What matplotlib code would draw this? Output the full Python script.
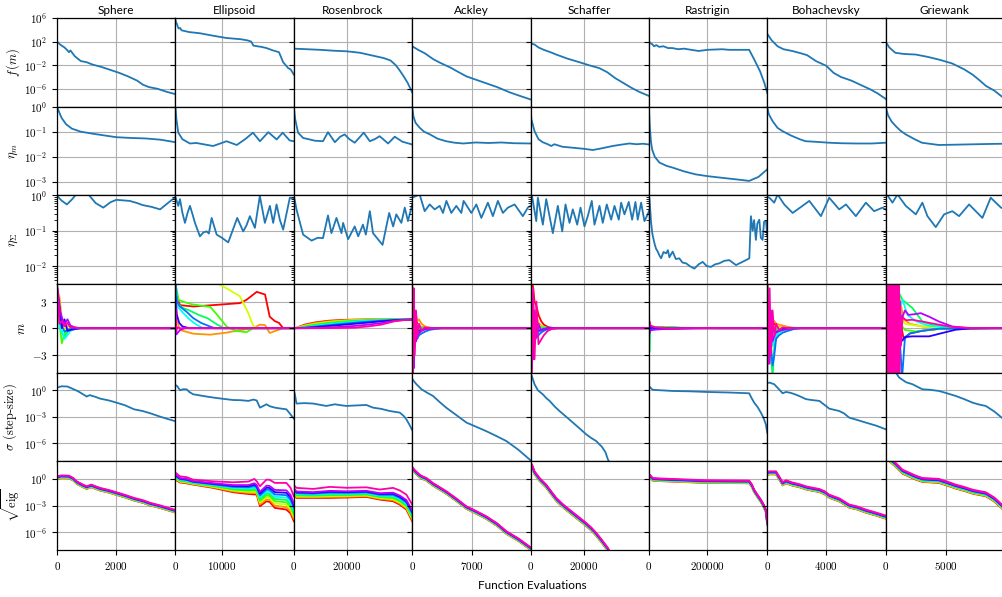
import numpy as np
import matplotlib
matplotlib.use("Agg")
import matplotlib.pyplot as plt

plt.rcParams.update({
    "font.family": "cmr10",
    "mathtext.fontset": "cm",
    "axes.formatter.use_mathtext": True,
    "font.size": 8,
    "axes.linewidth": 0.9,
})

functions = ["Sphere", "Ellipsoid", "Rosenbrock", "Ackley",
             "Schaffer", "Rastrigin", "Bohachevsky", "Griewank"]
max_evals = [4000, 25500, 44700, 13950, 44700, 405000, 8030, 9800]
mid_ticks = [2000, 10000, 20000, 7000, 20000, 200000, 4000, 5000]
n_dims = 10

# ---- f(m), log10 values as (evaluations, value) ----
sphere_f = [(0, 2.0), (100, 1.5), (250, 1.0), (330, 0.6), (400, 0.2), (450, 0.5), (600, -0.5),
            (800, -1.3), (1000, -1.5), (1200, -1.9), (1500, -2.3), (1800, -2.8), (2100, -3.3),
            (2400, -3.9), (2700, -4.6), (2900, -5.3), (3100, -5.7), (3400, -6.0), (3700, -6.5), (4000, -6.9)]
ellipsoid_f = [(0, 5.7), (150, 5.2), (300, 5.0), (500, 4.5), (700, 4.2), (1000, 4.3), (1300, 3.9),
               (3000, 3.6), (5300, 3.4), (8000, 3.0), (11000, 2.6), (14000, 2.4), (15500, 2.2),
               (16300, 2.0), (16800, 1.3), (18500, 1.1), (19600, 0.9), (21000, 0.5), (22300, 0.2),
               (23200, -1.5), (24300, -2.5), (24800, -2.7), (25500, -3.6)]
rosenbrock_f = [(0, 0.8), (5000, 0.7), (10000, 0.6), (15000, 0.45), (20000, 0.35), (25000, 0.1),
                (30000, -0.4), (34000, -0.8), (36500, -1.2), (38500, -2.0), (40000, -2.9),
                (41500, -3.9), (43000, -5.0), (44700, -6.6)]
ackley_f = [(0, 1.2), (700, 0.6), (1500, 0.0), (2500, -1.0), (3300, -1.6), (4500, -2.4), (5500, -3.2),
            (6400, -3.9), (8000, -4.7), (9000, -5.2), (10000, -5.7), (11500, -6.6), (12500, -7.1), (13950, -7.8)]
schaffer_f = [(0, 2.0), (600, 1.6), (1500, 1.5), (3000, 1.0), (5000, 0.6), (7500, 0.2), (9700, -0.2),
              (14000, -0.9), (18500, -1.5), (22000, -2.0), (26000, -2.5), (29000, -3.2), (32000, -4.2),
              (35000, -5.0), (38000, -5.8), (41000, -6.5), (44700, -7.2)]
rastrigin_f = [(0, 2.1), (5000, 1.7), (10000, 1.6), (18000, 1.2), (25000, 1.4), (35000, 1.1), (50000, 1.2),
               (65000, 0.9), (80000, 0.9), (100000, 0.7), (120000, 0.8), (145000, 0.6), (170000, 0.4),
               (200000, 0.6), (225000, 0.65), (250000, 0.7), (275000, 0.6), (300000, 0.6), (343000, 0.6),
               (360000, -1.0), (380000, -3.0), (395000, -5.0), (405000, -6.7)]
bohachevsky_f = [(0, 3.3), (300, 2.2), (700, 1.2), (1100, 0.7), (1700, 0.4), (2300, 0.0), (2700, -0.3),
                 (3300, -1.3), (4000, -2.1), (4500, -3.3), (5000, -4.0), (5700, -4.6), (6300, -5.3),
                 (7000, -6.1), (7500, -6.8), (8030, -7.7)]
griewank_f = [(0, 2.0), (300, 1.0), (800, 0.1), (1500, -0.1), (2500, -0.2), (3500, -0.6), (4500, -1.1),
              (5500, -1.7), (6500, -2.7), (7200, -3.6), (7800, -4.6), (8300, -5.5), (9000, -6.3), (9800, -7.6)]

# ---- eta_m, log10 values ----
sphere_eta_m = [(0, 0.0), (60, -0.2), (150, -0.45), (300, -0.7), (500, -0.88), (800, -1.0), (1200, -1.08),
                (1600, -1.15), (2000, -1.22), (2500, -1.25), (3000, -1.27), (3500, -1.32), (4000, -1.42)]
ellipsoid_eta_m = [(0, 0.0), (200, -0.5), (600, -1.04), (1500, -1.3), (3100, -1.47), (4500, -1.45),
                   (6000, -1.5), (8100, -1.57), (9500, -1.48), (11000, -1.38), (13200, -1.53), (15000, -1.3),
                   (16700, -1.04), (18200, -1.38), (20000, -1.02), (21800, -1.31), (23100, -1.04),
                   (24600, -1.35), (25500, -1.38)]
rosenbrock_eta_m = [(0, 0.0), (500, -0.5), (1600, -1.04), (3500, -1.25), (6000, -1.31), (8000, -1.36),
                    (11000, -1.38), (12900, -1.02), (15500, -1.42), (17500, -1.2), (19200, -1.11),
                    (21000, -1.3), (23000, -1.44), (26400, -1.04), (28700, -1.38), (30500, -1.3),
                    (32400, -1.18), (35600, -1.47), (38100, -1.2), (41000, -1.4), (44700, -1.51)]
ackley_eta_m = [(0, 0.0), (150, -0.4), (400, -0.65), (900, -0.85), (1400, -1.0), (2100, -1.11), (3000, -1.28),
                (4000, -1.38), (5000, -1.44), (6000, -1.47), (7500, -1.43), (9000, -1.45), (10500, -1.43),
                (12000, -1.46), (13950, -1.47)]
schaffer_eta_m = [(0, 0.0), (300, -0.5), (1500, -0.98), (3000, -1.3), (4600, -1.42), (6500, -1.5),
                  (7800, -1.57), (9000, -1.5), (12000, -1.6), (16000, -1.64), (20000, -1.68), (23500, -1.73),
                  (27000, -1.66), (31000, -1.57), (34000, -1.52), (37300, -1.47), (40000, -1.5),
                  (42500, -1.48), (44700, -1.51)]
rastrigin_eta_m = [(0, 0.0), (3000, -0.8), (7000, -1.4), (11000, -1.71), (20000, -2.0), (36000, -2.23),
                   (60000, -2.36), (81000, -2.43), (120000, -2.58), (160000, -2.7), (200000, -2.77),
                   (260000, -2.85), (300000, -2.9), (343000, -2.96), (375000, -2.8), (405000, -2.5)]
bohachevsky_eta_m = [(0, 0.0), (100, -0.3), (360, -0.58), (700, -0.85), (1040, -0.98), (1600, -1.15),
                     (2200, -1.3), (2600, -1.38), (3200, -1.4), (4200, -1.44), (5000, -1.46), (6000, -1.47),
                     (7100, -1.47), (8030, -1.44)]
griewank_eta_m = [(0, 0.0), (200, -0.35), (500, -0.6), (840, -0.78), (1200, -0.95), (1670, -1.11),
                  (2400, -1.3), (3000, -1.44), (4400, -1.53), (5500, -1.52), (6500, -1.51), (7500, -1.5),
                  (8500, -1.49), (9800, -1.48)]

# ---- eta_Sigma, log10 values ----
sphere_eta_c = [(0, -0.02), (150, -0.15), (330, -0.26), (500, -0.12), (650, 0.03), (1050, 0.03),
                (1300, -0.22), (1560, -0.35), (1800, -0.2), (2000, -0.13), (2450, -0.16), (2700, -0.22),
                (2900, -0.28), (3200, -0.33), (3480, -0.4), (3700, -0.25), (4000, -0.05)]
ellipsoid_eta_c = [(0, -0.05), (260, -0.16), (600, -0.3), (970, -0.11), (1500, -0.5), (2040, -0.78),
                   (2600, -0.5), (3120, -0.3), (3700, -0.55), (4200, -0.78), (5270, -1.16), (6000, -1.05),
                   (6710, -1.02), (7200, -1.08), (7790, -0.64), (8870, -1.11), (10000, -1.2), (11360, -1.33),
                   (12300, -1.0), (13300, -0.64), (14590, -1.02), (15300, -0.85), (16030, -0.59),
                   (17110, -0.92), (18180, -0.02), (19260, -0.78), (20340, -0.3), (21050, -0.78),
                   (21780, -0.26), (22500, -0.7), (23200, -0.97), (24640, -0.07), (25500, -0.1)]
rosenbrock_eta_c = [(0, 0.0), (1000, -0.4), (3500, -1.11), (6700, -1.28), (9000, -1.2), (11000, -1.21),
                    (12900, -0.57), (14200, -1.07), (16100, -0.64), (18000, -1.07), (18600, -0.78),
                    (20500, -1.24), (23000, -0.88), (24300, -1.16), (26100, -0.83), (27200, -1.11),
                    (28700, -0.45), (29900, -1.07), (33500, -1.4), (36000, -0.5), (37500, -0.88),
                    (38700, -0.54), (40600, -0.78), (41900, -0.35), (43100, -0.73), (44700, -0.26)]
ackley_eta_c = [(0, -0.07), (880, 0.02), (1470, -0.45), (2060, -0.26), (2650, -0.4), (3240, -0.3),
                (3630, -0.5), (4030, -0.16), (4610, -0.5), (5200, -0.3), (5790, -0.5), (6060, -0.16),
                (6970, -0.5), (7560, -0.26), (8150, -0.64), (8920, -0.21), (9510, -0.59), (10100, -0.16),
                (10690, -0.5), (11280, -0.35), (12070, -0.26), (13040, -0.59), (13630, -0.35), (13950, -0.3)]
schaffer_eta_c = [(0, 0.02), (490, 0.0), (2150, -0.73), (2750, -0.07), (4640, -0.83), (5920, -0.11),
                  (8410, -1.07), (10300, -0.3), (11960, -1.02), (13200, -0.26), (14710, -0.78),
                  (15960, -0.4), (17620, -0.83), (18860, -0.35), (20370, -0.88), (21610, -0.59),
                  (23120, -0.16), (24140, -0.83), (26030, -0.3), (27270, -0.78), (28780, -0.26),
                  (30440, -0.69), (31690, -0.3), (33310, -0.69), (34210, -0.21), (35460, -0.54),
                  (37080, -0.19), (38360, -0.69), (39610, -0.19), (40470, -0.69), (41760, -0.21),
                  (43000, -0.73), (44250, -0.54), (44700, -0.45)]
rastrigin_eta_c = [(0, 0.0), (1700, -0.07), (7500, -0.78), (12000, -1.1), (18800, -1.35), (24000, -1.5),
                   (30100, -1.59), (36000, -1.7), (41700, -1.78), (50000, -1.6), (58800, -1.64),
                   (65000, -1.55), (70000, -1.75), (81300, -1.59), (92000, -1.8), (104000, -1.78),
                   (115000, -1.9), (127000, -1.92), (140000, -2.0), (155500, -2.07), (170000, -1.95),
                   (184000, -1.88), (198000, -2.0), (212600, -2.02), (226000, -1.95), (241000, -1.92),
                   (258000, -1.85), (275000, -1.83), (298000, -1.97), (315000, -1.9), (332000, -1.83),
                   (343500, -1.78), (349000, -0.59), (355000, -1.0), (360000, -0.7), (366000, -1.26),
                   (371000, -0.8), (377700, -0.69), (383000, -1.2), (389000, -1.26), (394000, -0.75),
                   (400600, -0.73), (405000, -1.16)]
bohachevsky_eta_c = [(0, -0.05), (140, -0.07), (470, -0.21), (700, 0.02), (1150, -0.26), (1720, -0.5),
                     (2390, -0.3), (2850, -0.16), (3640, -0.59), (4200, -0.07), (4880, -0.4),
                     (5340, -0.26), (6010, -0.59), (6690, -0.21), (7250, -0.45), (7820, -0.35), (8030, -0.4)]
griewank_eta_c = [(0, 0.02), (150, 0.0), (560, -0.21), (980, 0.02), (1670, -0.3), (2500, -0.54),
                  (3040, -0.21), (3460, -0.59), (4150, -0.9), (4840, -0.54), (5520, -0.45), (6080, -0.59),
                  (6910, -0.26), (8010, -0.64), (8700, -0.07), (9550, -0.35), (9800, -0.38)]

# ---- m, one (evaluations, values) line per coordinate ----
sphere_m_evals = [0, 80, 160, 250, 350, 450, 600, 800, 1200, 4000]
sphere_m = [
    (sphere_m_evals, [4.8, 2.0, 0.5, 0.3, 0.1, 0.05, 0.02, 0.0, 0.0, 0.0]),
    (sphere_m_evals, [4.5, 3.5, 1.0, 0.4, 0.2, 0.1, 0.05, 0.02, 0.0, 0.0]),
    (sphere_m_evals, [4.0, 1.5, 0.2, -0.2, 0.1, 0.05, 0.0, 0.0, 0.0, 0.0]),
    (sphere_m_evals, [3.5, 0.5, -1.7, -0.6, -0.3, -0.1, -0.03, 0.0, 0.0, 0.0]),
    (sphere_m_evals, [4.2, 1.0, -0.5, -1.0, -0.4, -0.2, -0.05, 0.0, 0.0, 0.0]),
    (sphere_m_evals, [3.8, 0.0, -0.3, -1.2, -0.8, -0.3, -0.1, -0.02, 0.0, 0.0]),
    (sphere_m_evals, [4.6, 1.8, 0.3, -0.4, -0.2, -0.1, 0.0, 0.0, 0.0, 0.0]),
    (sphere_m_evals, [4.4, 2.5, 0.0, 1.0, -0.3, -0.2, -0.1, 0.0, 0.0, 0.0]),
    (sphere_m_evals, [4.9, 2.2, 1.2, 0.5, 1.0, 0.3, 0.1, 0.0, 0.0, 0.0]),
    (sphere_m_evals, [4.5, 0.5, 0.8, 0.2, 0.6, 0.1, 0.05, 0.0, 0.0, 0.0]),
]
ellipsoid_m = [
    ([0, 300, 970, 3800, 8000, 13900, 15300, 17500, 19300, 20300, 21400, 22300, 23200, 25500],
     [5.5, 3.5, 2.6, 2.45, 2.6, 2.83, 3.2, 4.1, 3.8, 1.3, 0.8, 0.6, 0.0, 0.0]),
    ([0, 200, 970, 3800, 7500, 11000, 13500, 16700, 18200, 19300, 20300, 22100, 23200, 25500],
     [4.0, 1.0, -0.2, -0.62, -0.73, -0.5, -0.25, 0.0, 0.4, 0.35, -0.54, -0.2, 0.0, 0.0]),
    ([0, 5000, 9200, 11000, 13900, 15700, 16700, 17500, 25500],
     [6.0, 6.0, 5.0, 4.5, 3.6, 1.7, 0.3, 0.05, 0.0]),
    ([0, 700, 1600, 3500, 5500, 7500, 9000, 11000, 13000, 15300, 16700, 25500],
     [5.0, 3.2, 3.0, 2.7, 2.55, 2.4, 1.5, 0.2, -0.3, -0.45, 0.0, 0.0]),
    ([0, 500, 1500, 3000, 5000, 7000, 9000, 10500, 25500],
     [4.5, 2.8, 2.3, 2.0, 1.5, 1.1, 0.4, 0.0, 0.0]),
    ([0, 400, 1500, 3000, 4500, 6000, 25500], [4.0, 2.5, 1.8, 1.0, 0.4, 0.0, 0.0]),
    ([0, 300, 970, 2500, 3800, 5500, 7400, 8500, 25500], [5.5, 3.0, 2.45, 1.8, 1.15, 0.6, 0.2, 0.0, 0.0]),
    ([0, 300, 800, 1500, 3000, 25500], [3.5, 1.5, 0.6, 0.2, 0.0, 0.0]),
    ([0, 200, 500, 1000, 2000, 25500], [2.0, -0.7, -0.5, -0.2, 0.0, 0.0]),
    ([0, 150, 400, 1000, 25500], [3.0, -0.3, 0.1, 0.0, 0.0]),
]
rosenbrock_m_evals = [0, 1000, 4000, 8000, 13000, 18000, 23000, 28000, 33000, 38000, 41000, 44700]
rosenbrock_m = [
    (rosenbrock_m_evals, [0, 0.05, 0.40, 0.65, 0.84, 0.93, 0.97, 0.99, 1.0, 1.0, 1.0, 1.0]),
    (rosenbrock_m_evals, [0, 0.04, 0.33, 0.57, 0.77, 0.88, 0.94, 0.97, 0.99, 1.0, 1.0, 1.0]),
    (rosenbrock_m_evals, [0, 0.03, 0.26, 0.49, 0.69, 0.82, 0.90, 0.95, 0.98, 0.99, 1.0, 1.0]),
    (rosenbrock_m_evals, [0, 0.02, 0.20, 0.41, 0.61, 0.75, 0.85, 0.92, 0.96, 0.99, 1.0, 1.0]),
    (rosenbrock_m_evals, [0, 0.01, 0.15, 0.33, 0.52, 0.67, 0.79, 0.88, 0.94, 0.98, 0.99, 1.0]),
    (rosenbrock_m_evals, [0, 0.01, 0.10, 0.25, 0.43, 0.58, 0.71, 0.82, 0.90, 0.96, 0.98, 0.99]),
    (rosenbrock_m_evals, [0, 0.0, 0.06, 0.18, 0.34, 0.48, 0.62, 0.74, 0.85, 0.94, 0.97, 0.99]),
    (rosenbrock_m_evals, [0, 0.0, 0.03, 0.11, 0.24, 0.37, 0.50, 0.63, 0.77, 0.90, 0.95, 0.98]),
    (rosenbrock_m_evals, [0, 0.0, 0.0, 0.02, 0.08, 0.16, 0.26, 0.40, 0.58, 0.82, 0.91, 0.97]),
    (rosenbrock_m_evals, [0, 0.0, 0.0, 0.0, 0.01, 0.03, 0.06, 0.20, 0.40, 0.78, 0.90, 0.96]),
]
ackley_m_evals = [0, 100, 200, 300, 450, 600, 800, 1100, 1500, 2000, 2600, 3500, 13950]
ackley_m = [
    (ackley_m_evals, [4.0, -2.0, 3.0, -1.0, 1.5, 0.5, 0.3, 0.1, 0.05, 0, 0, 0, 0]),
    (ackley_m_evals, [5.5, 3.0, -1.0, 2.0, 1.0, 0.8, 1.0, 0.5, 0.2, 0.1, 0, 0, 0]),
    (ackley_m_evals, [-3.0, 2.0, -1.5, 1.0, 0.3, 0.4, 0.2, 0.1, 0, 0, 0, 0, 0]),
    (ackley_m_evals, [3.0, -4.0, 1.0, -0.5, 0.5, 0.2, 0.1, 0, 0, 0, 0, 0, 0]),
    (ackley_m_evals, [-5.5, 2.5, -3.0, 0.8, -0.6, 0.3, -0.2, 0.1, 0, 0, 0, 0, 0]),
    (ackley_m_evals, [2.0, -3.5, 2.0, -1.0, 0.5, -0.3, -0.4, -0.2, -0.1, 0, 0, 0, 0]),
    (ackley_m_evals, [-4.0, 3.0, -2.5, -1.5, -1.0, -1.2, -0.8, -0.6, -0.4, -0.2, -0.1, 0, 0]),
    (ackley_m_evals, [4.5, -2.5, 1.5, -1.0, 0.6, -0.5, -0.3, -0.2, -0.1, 0, 0, 0, 0]),
    (ackley_m_evals, [-5.5, 4.0, -4.5, 2.0, -1.5, -0.8, -0.6, -0.3, -0.15, -0.05, 0, 0, 0]),
    (ackley_m_evals, [5.5, -5.5, 4.5, -3.0, 2.0, -1.0, 0.5, -0.3, 0.1, 0, 0, 0, 0]),
]
schaffer_m_evals = [0, 500, 1000, 1500, 2200, 3000, 4000, 5000, 6500, 8000, 10000, 44700]
schaffer_m = [
    (schaffer_m_evals, [5.5, 5.5, 4.5, 3.0, 2.5, 1.5, 0.8, 0.4, 0.15, 0.05, 0, 0]),
    (schaffer_m_evals, [4.0, -2.0, 2.5, 0.5, 1.2, 0.6, 0.3, 0.1, 0.05, 0, 0, 0]),
    (schaffer_m_evals, [-3.0, 3.5, -1.0, 1.5, 0.2, 0.4, 0.2, 0.1, 0, 0, 0, 0]),
    (schaffer_m_evals, [3.0, -4.0, 1.5, -0.5, 0.6, 0.2, 0.1, 0.05, 0, 0, 0, 0]),
    (schaffer_m_evals, [-4.0, 2.5, -2.5, 0.8, -0.6, 0.3, -0.2, 0.1, 0, 0, 0, 0]),
    (schaffer_m_evals, [2.0, -4.5, 1.5, -1.5, 0.4, -0.5, -0.3, -0.1, 0, 0, 0, 0]),
    (schaffer_m_evals, [-5.5, 3.0, -3.0, -1.5, -1.0, -0.8, -0.5, -0.3, -0.1, -0.05, 0, 0]),
    (schaffer_m_evals, [4.5, -2.0, 2.0, -1.0, 0.6, -0.3, -0.2, -0.1, 0, 0, 0, 0]),
    (schaffer_m_evals, [-4.5, 4.0, -3.5, 2.0, -1.0, 0.5, -0.3, -0.1, 0, 0, 0, 0]),
    (schaffer_m_evals, [5.5, -5.5, 4.5, -3.5, 3.0, -1.8, -1.3, -0.8, -0.3, -0.1, 0, 0]),
]
rastrigin_m_evals = [0, 1500, 4000, 10000, 25000, 50000, 80000, 120000, 170000, 250000, 405000]
rastrigin_m = [
    (rastrigin_m_evals, [2.0, -0.5, 0.3, 0.1, -0.1, 0.05, 0.1, 0.0, 0.02, 0, 0]),
    (rastrigin_m_evals, [-1.0, 0.6, 0.2, -0.1, 0.15, 0.0, 0.05, 0.03, 0, 0, 0]),
    (rastrigin_m_evals, [3.0, 0.2, -0.3, 0.2, 0.05, 0.1, 0.0, 0.02, 0.01, 0, 0]),
    (rastrigin_m_evals, [-2.0, 0.4, 0.1, 0.25, 0.1, 0.15, 0.1, 0.05, 0.02, 0, 0]),
    (rastrigin_m_evals, [5.0, -2.7, 0.3, -0.2, 0.1, 0.05, 0.0, 0.03, 0.02, 0, 0]),
    (rastrigin_m_evals, [-1.5, 0.3, -0.2, 0.15, 0.1, 0.0, 0.05, 0.02, 0, 0, 0]),
    (rastrigin_m_evals, [1.0, -0.4, 0.2, -0.15, -0.05, -0.1, 0.0, -0.02, 0, 0, 0]),
    (rastrigin_m_evals, [-0.5, 0.5, -0.1, 0.1, -0.1, 0.05, -0.05, 0, 0, 0, 0]),
    (rastrigin_m_evals, [1.5, -0.6, -0.3, -0.2, -0.15, -0.1, -0.1, -0.05, -0.02, 0, 0]),
    (rastrigin_m_evals, [-1.0, 0.8, 0.4, 0.2, 0.1, 0.05, -0.05, 0.0, 0.02, 0, 0]),
]
bohachevsky_m_evals = [0, 80, 160, 250, 360, 480, 600, 800, 1050, 1400, 1800, 2300, 8030]
bohachevsky_m = [
    (bohachevsky_m_evals, [5.5, 2.0, -1.0, 1.0, 0.3, 0.5, 0.2, 0.1, 0.05, 0, 0, 0, 0]),
    (bohachevsky_m_evals, [4.0, 3.5, 0.5, 1.5, 0.6, 0.8, 0.5, 0.4, 0.3, 0.15, 0.05, 0, 0]),
    (bohachevsky_m_evals, [-2.0, 1.0, 2.5, -0.5, 0.4, 0.2, 0.1, 0.1, 0.05, 0, 0, 0, 0]),
    (bohachevsky_m_evals, [3.0, -2.0, 1.5, -1.5, -0.5, -0.3, -0.2, -0.1, 0, 0, 0, 0, 0]),
    (bohachevsky_m_evals, [-3.0, 4.0, -2.0, -3.0, -5.5, -2.0, -1.0, -0.4, -0.2, -0.1, 0, 0, 0]),
    (bohachevsky_m_evals, [2.0, -3.0, 2.0, -1.0, -2.0, -1.5, -0.8, -0.5, -0.3, -0.1, 0, 0, 0]),
    (bohachevsky_m_evals, [-4.0, 2.0, -3.0, -2.0, -4.2, -3.0, -1.2, -0.8, -0.5, -0.3, -0.1, 0, 0]),
    (bohachevsky_m_evals, [4.5, -1.0, 1.0, -0.5, 0.3, -0.3, -0.4, -0.3, -0.1, 0, 0, 0, 0]),
    (bohachevsky_m_evals, [-5.0, 3.0, -4.0, 2.0, -1.5, -0.8, -0.5, -0.3, -0.2, -0.1, 0, 0, 0]),
    (bohachevsky_m_evals, [5.5, -4.0, 4.5, -3.0, 2.0, -1.0, 0.5, -0.2, 0.1, 0, 0, 0, 0]),
]
griewank_m = [
    ([0, 300, 600, 900, 1200, 1500, 2000, 3000, 4500, 9800],
     [5.5, -5.5, 3.0, -2.0, 1.0, -1.3, -0.6, -0.3, -0.05, 0]),
    ([0, 300, 600, 900, 1200, 1500, 2000, 3000, 4500, 9800],
     [-4.0, 5.5, -1.0, 5.5, 3.0, 1.0, 0.5, 0.2, 0.05, 0]),
    ([0, 300, 600, 900, 1200, 1600, 2500, 3500, 5000, 9800],
     [4.0, -3.0, 5.5, -1.0, 1.5, 0.5, 0.3, 0.15, 0.05, 0]),
    ([0, 300, 600, 900, 1200, 1600, 2500, 3500, 5000, 9800],
     [-3.0, 5.5, -2.0, 3.0, 0.5, -0.2, -0.36, -0.2, -0.05, 0]),
    ([0, 250, 500, 800, 1100, 1390, 2220, 3040, 4000, 5500, 9800],
     [5.5, -4.0, 3.0, -2.0, 4.0, 3.2, 2.27, 0.76, 0.3, 0.05, 0]),
    ([0, 250, 500, 800, 1100, 1400, 1800, 2500, 3500, 5000, 9800],
     [-5.5, 4.0, -3.0, 5.5, 2.0, 3.2, 1.5, 0.8, 0.3, 0.05, 0]),
    ([0, 300, 600, 900, 1200, 1370, 1600, 2000, 3000, 4500, 9800],
     [3.0, -3.0, 4.0, -5.5, -2.0, -5.5, -1.0, -0.6, -0.3, -0.05, 0]),
    ([0, 200, 400, 600, 800, 1000, 1300, 1600, 2200, 3600, 4700, 5800, 7000, 9800],
     [4.0, -5.5, 3.0, -4.0, 2.0, -3.0, -1.5, -1.0, -0.92, -0.92, -0.54, -0.17, -0.03, 0]),
    ([0, 200, 400, 600, 800, 1000, 1300, 1600, 1900, 2500, 2900, 3600, 4400, 5500, 6600, 9800],
     [-5.5, 5.5, -4.0, 4.5, -2.0, 3.5, 1.0, 2.0, 1.5, 1.6, 1.7, 1.3, 0.76, 0.2, 0.03, 0]),
    ([0, 60, 120, 180, 240, 300, 360, 420, 480, 540, 600, 660, 720, 780, 840, 900, 960, 1020,
      1080, 1140, 1200, 1260, 1400, 1700, 2200, 3000, 3600, 4400, 5500, 7000, 9800],
     [5.5, -5.5, 5.5, -5.5, 5.5, -5.5, 5.5, -5.5, 5.5, -5.5, 5.5, -5.5, 5.5, -5.5, 5.5, -5.5, 5.5,
      -5.5, 5.5, -5.5, 3.0, -2.0, 1.2, 0.9, 0.95, 0.76, 0.6, 0.4, 0.15, 0.03, 0]),
]

# ---- sigma (step-size), log10 values ----
sphere_sigma = [(0, 0.3), (150, 0.45), (350, 0.42), (500, 0.2), (700, -0.1), (900, -0.5), (1000, -0.71),
                (1100, -0.55), (1300, -0.75), (1450, -0.94), (1750, -1.15), (2000, -1.39), (2300, -1.7),
                (2600, -2.15), (2900, -2.35), (3150, -2.6), (3500, -3.0), (4000, -3.5)]
ellipsoid_sigma = [(0, 0.6), (400, 0.45), (970, 0.0), (1700, 0.12), (2400, 0.1), (3000, -0.2),
                   (3800, -0.45), (6000, -0.65), (8100, -0.82), (10000, -0.95), (12400, -1.1),
                   (14000, -1.12), (15700, -1.2), (16800, -1.05), (17500, -1.15), (18200, -1.96),
                   (19000, -1.75), (19600, -1.58), (20300, -1.8), (21400, -1.96), (22500, -2.05),
                   (23900, -2.15), (24600, -2.6), (25500, -3.2)]
rosenbrock_sigma = [(0, -1.0), (300, -0.3), (1000, -1.5), (4000, -1.45), (7300, -1.5), (10000, -1.65),
                    (12300, -1.77), (15500, -1.58), (18000, -1.7), (19900, -1.77), (23000, -1.72),
                    (27400, -1.66), (29900, -1.96), (33000, -2.1), (36200, -2.34), (38500, -2.45),
                    (40000, -2.52), (41500, -2.9), (42500, -3.28), (43500, -3.8), (44700, -4.5)]
ackley_sigma = [(0, 1.3), (300, 0.9), (500, 0.68), (1100, 0.11), (1800, -0.3), (2450, -0.64), (3200, -1.3),
                (4000, -1.96), (5200, -2.8), (6400, -3.65), (7500, -4.1), (8700, -4.6), (10000, -5.2),
                (11100, -5.73), (12500, -6.7), (13950, -7.9)]
schaffer_sigma = [(0, 2.0), (600, 1.5), (1500, 0.68), (2750, 0.0), (4600, -0.45), (6000, -0.9),
                  (7200, -1.2), (9000, -1.8), (10900, -2.34), (13500, -3.0), (16000, -3.65), (18500, -4.3),
                  (21000, -4.97), (23000, -5.4), (24800, -5.73), (27000, -6.4), (28300, -7.0),
                  (29200, -7.8), (31000, -8.8), (44700, -14.0)]
rastrigin_sigma = [(0, 0.5), (5000, 0.3), (13000, 0.05), (40000, 0.0), (81000, -0.08), (140000, -0.12),
                   (195000, -0.19), (270000, -0.25), (343000, -0.34), (350000, -0.8), (360000, -1.39),
                   (372000, -1.9), (383000, -2.52), (392000, -3.1), (400000, -3.84), (405000, -4.8)]
bohachevsky_sigma = [(0, 0.8), (140, 0.87), (470, 0.68), (800, 0.1), (1040, -0.34), (1270, -0.19),
                     (1600, -0.3), (1950, -0.5), (2300, -0.75), (2620, -1.0), (3000, -1.1), (3530, -1.2),
                     (4000, -1.8), (4200, -2.07), (4880, -2.34), (5200, -2.6), (5560, -3.09), (6000, -3.3),
                     (6690, -3.65), (7400, -4.0), (8030, -4.4)]
griewank_sigma = [(0, 3.0), (840, 2.0), (1120, 1.43), (1700, 0.9), (2220, 0.68), (3040, 0.11), (3700, 0.05),
                  (4420, -0.08), (5100, -0.35), (5800, -0.64), (6500, -1.0), (7180, -1.39), (7700, -1.6),
                  (8290, -1.77), (9000, -2.4), (9800, -3.3)]

# ---- sqrt(eig): largest value, smallest value (or band width), log10 ----
sphere_eig = [(0, 0.3), (150, 0.4), (400, 0.37), (550, 0.1), (665, -0.27), (850, -0.6), (1000, -0.83),
              (1150, -0.64), (1450, -1.01), (1750, -1.25), (2000, -1.5), (2300, -1.8), (2600, -2.14),
              (2900, -2.4), (3150, -2.7), (3500, -3.0), (4000, -3.5)]
sphere_eig_low = 0.3
ellipsoid_eig_evals = [0, 970, 2400, 3800, 8100, 12400, 15700, 17000, 17500, 18200, 19600, 20300,
                       21400, 23900, 24800, 25500]
ellipsoid_eig = list(zip(ellipsoid_eig_evals,
                         [0.70, 0.29, 0.20, -0.08, -0.27, -0.38, -0.30, 0.00, -0.27, -0.83, -0.08,
                          -0.10, -0.45, -0.45, -1.01, -1.96]))
ellipsoid_eig_low = [-0.10, -0.40, -0.50, -0.64, -1.01, -1.50, -1.70, -1.75, -1.77, -3.08, -2.52,
                     -2.60, -3.27, -3.46, -3.90, -4.77]
rosenbrock_eig_evals = [0, 1000, 7300, 13600, 19900, 27400, 32400, 37500, 40000, 42500, 44700]
rosenbrock_eig = list(zip(rosenbrock_eig_evals,
                          [-0.7, -1.01, -1.13, -0.9, -1.0, -0.95, -1.2, -1.01, -1.3, -1.77, -2.89]))
rosenbrock_eig_low = [-1.6, -2.14, -2.14, -2.14, -2.1, -2.03, -2.33, -2.52, -2.9, -3.46, -4.77]
ackley_eig = [(0, 1.35), (300, 1.0), (880, 0.48), (1200, 0.3), (1670, 0.11), (2500, -0.5), (3200, -0.9),
              (4030, -1.39), (5200, -2.2), (6380, -3.08), (7500, -3.6), (8730, -4.21), (10000, -5.0),
              (11100, -5.9), (12500, -6.7), (13950, -7.7)]
ackley_eig_low = 0.3
schaffer_eig = [(0, 1.9), (700, 1.5), (1500, 0.86), (3400, 0.11), (5900, -0.64), (7800, -1.4), (9700, -2.14),
                (12000, -2.8), (14700, -3.46), (17800, -4.2), (21000, -4.96), (23000, -5.5), (24800, -6.08),
                (27000, -6.9), (29200, -7.77), (31000, -8.8), (44700, -14.0)]
schaffer_eig_low = 0.35
rastrigin_eig = [(0, 0.6), (5000, 0.4), (13000, 0.11), (40000, 0.05), (81000, 0.0), (140000, -0.08),
                 (195000, -0.15), (270000, -0.17), (343000, -0.19), (352000, -0.6), (360000, -1.2),
                 (372000, -1.8), (383000, -2.33), (393000, -2.9), (400000, -3.46), (405000, -4.9)]
rastrigin_eig_low = 0.3
bohachevsky_eig = [(0, 0.8), (140, 0.86), (590, 0.86), (800, 0.3), (1040, -0.38), (1270, -0.15),
                   (1700, -0.4), (2200, -0.6), (2620, -0.83), (3100, -1.0), (3530, -1.13), (3900, -1.4),
                   (4200, -1.77), (4900, -2.2), (5560, -2.89), (6100, -3.1), (6690, -3.46), (7400, -3.8),
                   (8030, -4.13)]
bohachevsky_eig_low = 0.35
griewank_eig = [(0, 2.8), (840, 1.8), (1390, 1.05), (2500, 0.37), (3040, 0.11), (4420, 0.0), (5100, -0.3),
                (5800, -0.64), (6500, -0.9), (7180, -1.2), (7700, -1.35), (8290, -1.5), (9000, -2.1),
                (9800, -3.1)]
griewank_eig_low = 0.45

# position of each coordinate inside the eigenvalue band (0 = smallest, 1 = largest)
eig_levels = [0.0, 0.1, 0.2, 0.3, 0.4, 0.5, 0.6, 0.7, 0.8, 1.0]
ellipsoid_eig_levels = [0.0, 0.09, 0.18, 0.27, 0.36, 0.45, 0.54, 0.63, 0.72, 1.0]
rosenbrock_eig_levels = [0.0, 0.08, 0.16, 0.24, 0.32, 0.4, 0.48, 0.56, 0.64, 1.0]

f_data = [sphere_f, ellipsoid_f, rosenbrock_f, ackley_f, schaffer_f, rastrigin_f, bohachevsky_f, griewank_f]
eta_m_data = [sphere_eta_m, ellipsoid_eta_m, rosenbrock_eta_m, ackley_eta_m, schaffer_eta_m,
              rastrigin_eta_m, bohachevsky_eta_m, griewank_eta_m]
eta_c_data = [sphere_eta_c, ellipsoid_eta_c, rosenbrock_eta_c, ackley_eta_c, schaffer_eta_c,
              rastrigin_eta_c, bohachevsky_eta_c, griewank_eta_c]
m_data = [sphere_m, ellipsoid_m, rosenbrock_m, ackley_m, schaffer_m, rastrigin_m, bohachevsky_m, griewank_m]
sigma_data = [sphere_sigma, ellipsoid_sigma, rosenbrock_sigma, ackley_sigma, schaffer_sigma,
              rastrigin_sigma, bohachevsky_sigma, griewank_sigma]
eig_data = [sphere_eig, ellipsoid_eig, rosenbrock_eig, ackley_eig, schaffer_eig, rastrigin_eig,
            bohachevsky_eig, griewank_eig]
eig_low_data = [sphere_eig_low, ellipsoid_eig_low, rosenbrock_eig_low, ackley_eig_low, schaffer_eig_low,
                rastrigin_eig_low, bohachevsky_eig_low, griewank_eig_low]
eig_level_data = [eig_levels, ellipsoid_eig_levels, rosenbrock_eig_levels, eig_levels, eig_levels,
                  eig_levels, eig_levels, eig_levels]

row_labels = [r"$f\,(m)$", r"$\eta_m$", r"$\eta_\Sigma$", r"$m$", r"$\sigma$ (step-size)", r"$\sqrt{\mathrm{eig}}$"]
label_x = [-0.30, -0.31, -0.31, -0.25, -0.32, -0.30]
colors = plt.cm.hsv(np.linspace(0, 0.9, n_dims))
blue = "#1f77b4"


def unpack(points):
    ev, val = zip(*points)
    return np.array(ev, float), np.array(val, float)


fig, axes = plt.subplots(6, 8, sharex="col", sharey="row", figsize=(10.02, 5.97), dpi=100)
fig.subplots_adjust(left=0.057, right=1.002, top=0.970, bottom=0.079, hspace=0, wspace=0)

for j, name in enumerate(functions):
    col = axes[:, j]

    for row, data in zip([0, 1, 2, 4], [f_data, eta_m_data, eta_c_data, sigma_data]):
        ev, val = unpack(data[j])
        col[row].semilogy(ev, 10.0 ** val, color=blue, lw=1.3)

    for k, (ev, val) in enumerate(m_data[j]):
        col[3].plot(ev, val, color=colors[k], lw=1.3)

    ev, top = unpack(eig_data[j])
    low = eig_low_data[j]
    low = top - low if np.isscalar(low) else np.array(low)
    for k, level in enumerate(eig_level_data[j]):
        col[5].semilogy(ev, 10.0 ** (low + level * (top - low)), color=colors[k], lw=1.3)

    col[0].set_title(name, family="Lato", size=8.5, pad=3)
    col[5].set_xlim(0, max_evals[j])
    col[5].set_xticks([0, mid_ticks[j]])

    for ax in col:
        ax.grid(True, color="#b0b0b0", lw=0.8)

axes[0, 0].set_ylim(1e-9, 1e6)
axes[0, 0].set_yticks([1e-6, 1e-2, 1e2, 1e6])
axes[1, 0].set_ylim(10 ** -3.53, 1)
axes[1, 0].set_yticks([1e-3, 1e-2, 1e-1, 1e0])
axes[2, 0].set_ylim(10 ** -2.5, 1)
axes[2, 0].set_yticks([1e-2, 1e-1, 1e0])
axes[3, 0].set_ylim(-5, 5)
axes[3, 0].set_yticks([-3, 0, 3])
axes[4, 0].set_ylim(1e-8, 1e2)
axes[4, 0].set_yticks([1e-6, 1e-3, 1e0])
axes[5, 0].set_ylim(1e-8, 1e2)
axes[5, 0].set_yticks([1e-6, 1e-3, 1e0])

for i, label in enumerate(row_labels):
    axes[i, 0].set_ylabel(label, size=9)
    axes[i, 0].yaxis.set_label_coords(label_x[i], 0.5)

fig.text(0.531, 0.02, "Function Evaluations", family="Lato", size=8.5, ha="center", va="center")

plt.savefig("out.png", dpi=100)
